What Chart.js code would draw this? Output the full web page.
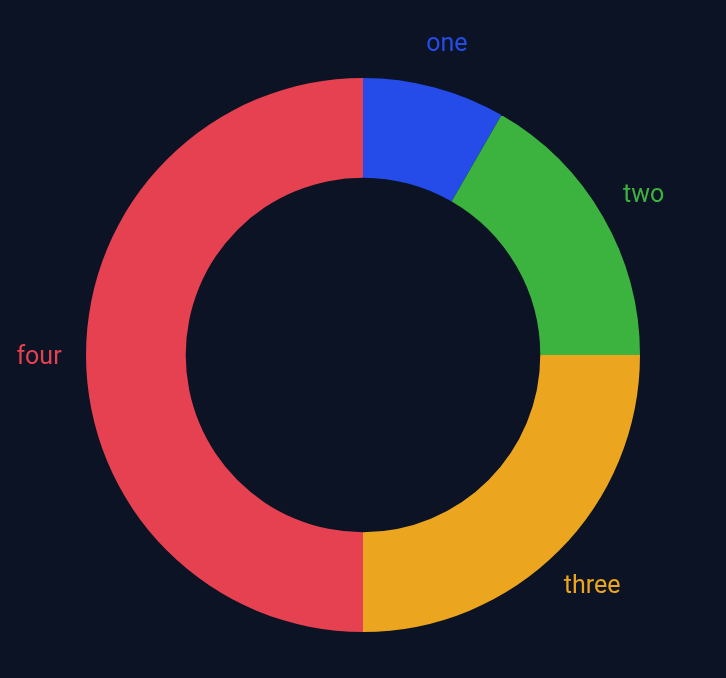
<!DOCTYPE html>
<html>
<head>
<meta charset="utf-8">
<script src="https://cdn.jsdelivr.net/npm/chart.js@4/dist/chart.umd.min.js"></script>
<style>
  html, body { margin: 0; padding: 0; background: #0b1324; }
  #wrap { width: 726px; height: 678px; }
</style>
</head>
<body>
<div id="wrap"><canvas id="c" width="726" height="678"></canvas></div>
<script>
const categories = ['one', 'two', 'three', 'four'];
const values = [1, 2, 3, 6];
const colors = ['#254be8', '#3cb33f', '#eca51e', '#e54150'];

const outerLabels = {
  id: 'outerLabels',
  afterDatasetsDraw(chart) {
    const ctx = chart.ctx;
    const meta = chart.getDatasetMeta(0);
    ctx.save();
    ctx.font = '25px Roboto';
    ctx.textAlign = 'center';
    ctx.textBaseline = 'middle';
    meta.data.forEach((arc, i) => {
      const p = arc.getProps(['x', 'y', 'startAngle', 'endAngle', 'outerRadius'], true);
      const mid = (p.startAngle + p.endAngle) / 2;
      const r = p.outerRadius + 47;
      ctx.fillStyle = colors[i];
      ctx.fillText(categories[i], p.x + Math.cos(mid) * r, p.y + Math.sin(mid) * r + 3);
    });
    ctx.restore();
  }
};

new Chart(document.getElementById('c'), {
  type: 'doughnut',
  data: {
    labels: categories,
    datasets: [{
      data: values,
      backgroundColor: colors,
      borderWidth: 0
    }]
  },
  options: {
    responsive: false,
    animation: false,
    cutout: '64%',
    layout: { padding: { top: 78, bottom: 46, left: 86, right: 86 } },
    plugins: {
      legend: { display: false },
      tooltip: { enabled: false }
    }
  },
  plugins: [outerLabels]
});
</script>
</body>
</html>
